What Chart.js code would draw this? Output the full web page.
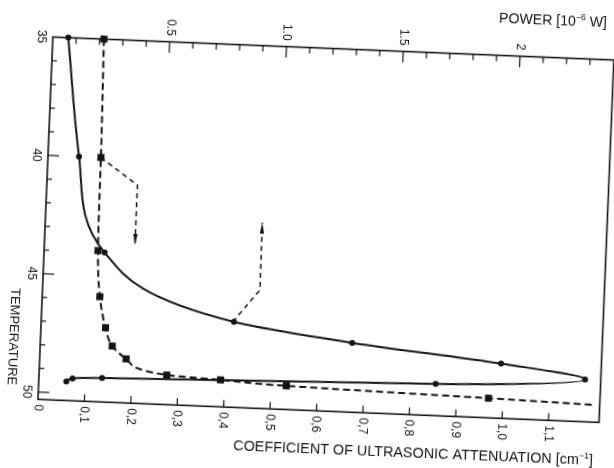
<!DOCTYPE html>
<html><head><meta charset="utf-8">
<script src="https://cdn.jsdelivr.net/npm/chart.js@4.4.1/dist/chart.umd.min.js"></script>
<style>
html,body{margin:0;padding:0;background:#fff;overflow:hidden;width:614px;height:468px}
#wrap{position:absolute;left:0;top:0;width:614px;height:468px;transform:rotate(2.35deg);transform-origin:307px 234px}
canvas{display:block}
</style>
</head><body>
<div id="wrap"><canvas id="c" width="614" height="468"></canvas></div>
<script>
// ---- data ----
// Temperature (vertical axis, increasing downward)
const powerTemps  = [35, 40, 44, 46.7, 47.38, 48, 48.52, 48.97, 49.3, 49.37, 49.51];
const powerValues = [0.066, 0.133, 0.259, 0.824, 1.333, 1.973, 2.335, 1.697, 0.27, 0.144, 0.118]; // 10^-6 W (top axis)
const attenTemps  = [35, 40, 43.93, 45.87, 47.17, 47.93, 48.45, 49.06, 49.17, 49.31, 49.48, 49.58];
const attenValues = [0.110, 0.114, 0.116, 0.124, 0.139, 0.155, 0.186, 0.275, 0.391, 0.533, 0.969, 1.195]; // cm^-1 (bottom axis)
const attenMarked = [true, true, true, true, true, true, true, true, true, true, true, false];

// axis ticks
const attenTicks = [0, 0.1, 0.2, 0.3, 0.4, 0.5, 0.6, 0.7, 0.8, 0.9, 1.0, 1.1];
const attenTickLabels = ["0", "0,1", "0,2", "0,3", "0,4", "0,5", "0,6", "0,7", "0,8", "0,9", "1,0", "1,1"];
const powerMinorTicks = [0.1,0.2,0.3,0.4,0.6,0.7,0.8,0.9,1.1,1.2,1.3,1.4,1.6,1.7,1.8,1.9,2.1,2.2,2.3];
const powerMajorTicks = [0.5, 1.0, 1.5, 2.0];
const powerTickLabels = ["0.5", "1.0", "1.5", "2"];
const tempMinorTicks = [36,37,38,39,41,42,43,44,46,47,48,49];
const tempMajorTicks = [35, 40, 45, 50];
const tempTickLabels = ["35", "40", "45", "50"];

// dashed leader arrows (attenuation units, temperature)
const leaderAtten = {x: [0.114, 0.195, 0.195], t: [40, 41.1, 43.63]};   // points down: bottom axis
const leaderPower = {x: [0.412, 0.468, 0.467], t: [46.7, 45.31, 42.47]}; // points up: top axis

const axisTitleX = "COEFFICIENT OF ULTRASONIC ATTENUATION";
const axisTitleTop = "POWER";
const axisTitleY = "TEMPERATURE";

// ---- drawing ----
const INK = '#141414';
const FAM = '"Liberation Sans", Arial, sans-serif';

function runs(ctx, parts, x, y, size, targetW) {
  const widthOf = () => { let w = 0; parts.forEach(p => { ctx.font = (p[1] ? size*0.62 : size) + 'px ' + FAM; w += ctx.measureText(p[0]).width; }); return w; };
  const w = widthOf();
  ctx.save();
  ctx.translate(x, y);
  ctx.scale(targetW / w, 1);
  let cx = 0;
  ctx.textBaseline = 'alphabetic';
  ctx.textAlign = 'left';
  parts.forEach(p => {
    ctx.font = (p[1] ? size*0.62 : size) + 'px ' + FAM;
    ctx.fillText(p[0], cx, p[1] ? -size*0.42 : 0);
    cx += ctx.measureText(p[0]).width;
  });
  ctx.restore();
}

function arrowPath(ctx, sx, sy, data, xs) {
  const pts = data.x.map((v, i) => [xs.getPixelForValue(v), sy.getPixelForValue(data.t[i])]);
  ctx.save();
  ctx.setLineDash([5, 4]);
  ctx.lineWidth = 1.5;
  ctx.beginPath();
  pts.forEach((p, i) => i ? ctx.lineTo(p[0], p[1]) : ctx.moveTo(p[0], p[1]));
  ctx.stroke();
  ctx.setLineDash([]);
  const a = pts[pts.length - 2], b = pts[pts.length - 1];
  const ang = Math.atan2(b[1] - a[1], b[0] - a[0]);
  ctx.translate(b[0], b[1]);
  ctx.rotate(ang);
  ctx.beginPath();
  ctx.moveTo(0, 0);
  ctx.lineTo(-11, -2.2);
  ctx.lineTo(-11, 2.2);
  ctx.closePath();
  ctx.fill();
  ctx.restore();
}

const framePlugin = {
  id: 'frame',
  afterDatasetsDraw(chart) {
    const {ctx, chartArea: a, scales} = chart;
    const x = scales.x, xp = scales.xp, y = scales.y;
    ctx.save();
    ctx.strokeStyle = INK; ctx.fillStyle = INK;
    ctx.lineWidth = 1.6;
    ctx.strokeRect(a.left, a.top, a.right - a.left, a.bottom - a.top);
    ctx.lineWidth = 1.2;
    const seg = (x1, y1, x2, y2) => { ctx.beginPath(); ctx.moveTo(x1, y1); ctx.lineTo(x2, y2); ctx.stroke(); };
    // bottom ticks and labels
    ctx.font = '12px ' + FAM;
    attenTicks.forEach((v, i) => {
      const px = x.getPixelForValue(v);
      if (v > 0) seg(px, a.bottom, px, a.bottom - 7);
      ctx.save(); ctx.translate(px, a.bottom + 5); ctx.rotate(Math.PI / 2);
      ctx.textAlign = 'left'; ctx.textBaseline = 'middle';
      ctx.fillText(attenTickLabels[i], 0, 0); ctx.restore();
    });
    // top ticks and labels
    powerMinorTicks.forEach(v => { const px = xp.getPixelForValue(v); seg(px, a.top, px, a.top + 6); });
    powerMajorTicks.forEach((v, i) => {
      const px = xp.getPixelForValue(v);
      seg(px, a.top, px, a.top + 11);
      ctx.save(); ctx.translate(px, a.top - 6); ctx.rotate(Math.PI / 2);
      ctx.textAlign = 'right'; ctx.textBaseline = 'middle';
      ctx.fillText(powerTickLabels[i], 0, 0); ctx.restore();
    });
    // left ticks and labels
    tempMinorTicks.forEach(v => { const py = y.getPixelForValue(v); seg(a.left, py, a.left + 5, py); });
    tempMajorTicks.forEach((v, i) => {
      const py = y.getPixelForValue(v);
      if (v > 35) seg(a.left, py, a.left + 11, py);
      ctx.save(); ctx.translate(a.left - 12, py); ctx.rotate(Math.PI / 2);
      ctx.textAlign = 'center'; ctx.textBaseline = 'middle';
      ctx.fillText(tempTickLabels[i], 0, 0); ctx.restore();
    });
    // axis titles
    ctx.save(); ctx.translate(a.left - 27, a.top + 301); ctx.rotate(Math.PI / 2);
    ctx.textAlign = 'center'; ctx.textBaseline = 'middle';
    ctx.font = '13px ' + FAM; ctx.fillText(axisTitleY, 0, 0); ctx.restore();
    runs(ctx, [[axisTitleX + ' [cm', false], ['\u22121', true], [']', false]], a.left + 197, a.bottom + 43, 14, 360);
    runs(ctx, [[axisTitleTop + ' [10', false], ['\u22126', true], [' W]', false]], a.left + 445, a.top - 33, 14, 108);
    // leader arrows
    arrowPath(ctx, x, y, leaderAtten, x);
    arrowPath(ctx, x, y, leaderPower, x);
    ctx.restore();
  }
};

const powerData = powerValues.map((v, i) => ({x: v, y: powerTemps[i]}));
const attenData = attenValues.map((v, i) => ({x: v, y: attenTemps[i]}));

new Chart(document.getElementById('c'), {
  type: 'line',
  data: {
    datasets: [
      {
        label: 'Power', data: powerData, xAxisID: 'xp', yAxisID: 'y',
        borderColor: INK, backgroundColor: INK, borderWidth: 2,
        pointStyle: 'circle', pointRadius: 3, pointBackgroundColor: INK, pointBorderWidth: 0,
        cubicInterpolationMode: 'monotone', fill: false, clip: false
      },
      {
        label: 'Attenuation', data: attenData, xAxisID: 'x', yAxisID: 'y',
        borderColor: INK, backgroundColor: INK, borderWidth: 2, borderDash: [7, 4],
        pointStyle: 'rect', pointRadius: attenMarked.map(m => m ? 5 : 0), pointBackgroundColor: INK, pointBorderWidth: 0,
        cubicInterpolationMode: 'monotone', fill: false, clip: false
      }
    ]
  },
  options: {
    indexAxis: 'y',
    responsive: false, animation: false, devicePixelRatio: 1,
    layout: {padding: {left: 45, top: 47.6, right: 7.5, bottom: 57.7}},
    plugins: {legend: {display: false}, tooltip: {enabled: false}},
    scales: {
      x:  {type: 'linear', position: 'bottom', min: 0, max: 1.209, display: false},
      xp: {type: 'linear', position: 'top', min: 0, max: 2.402, display: false},
      y:  {type: 'linear', position: 'left', min: 35, max: 50.31, reverse: true, display: false}
    }
  },
  plugins: [framePlugin]
});
</script>
</body></html>
